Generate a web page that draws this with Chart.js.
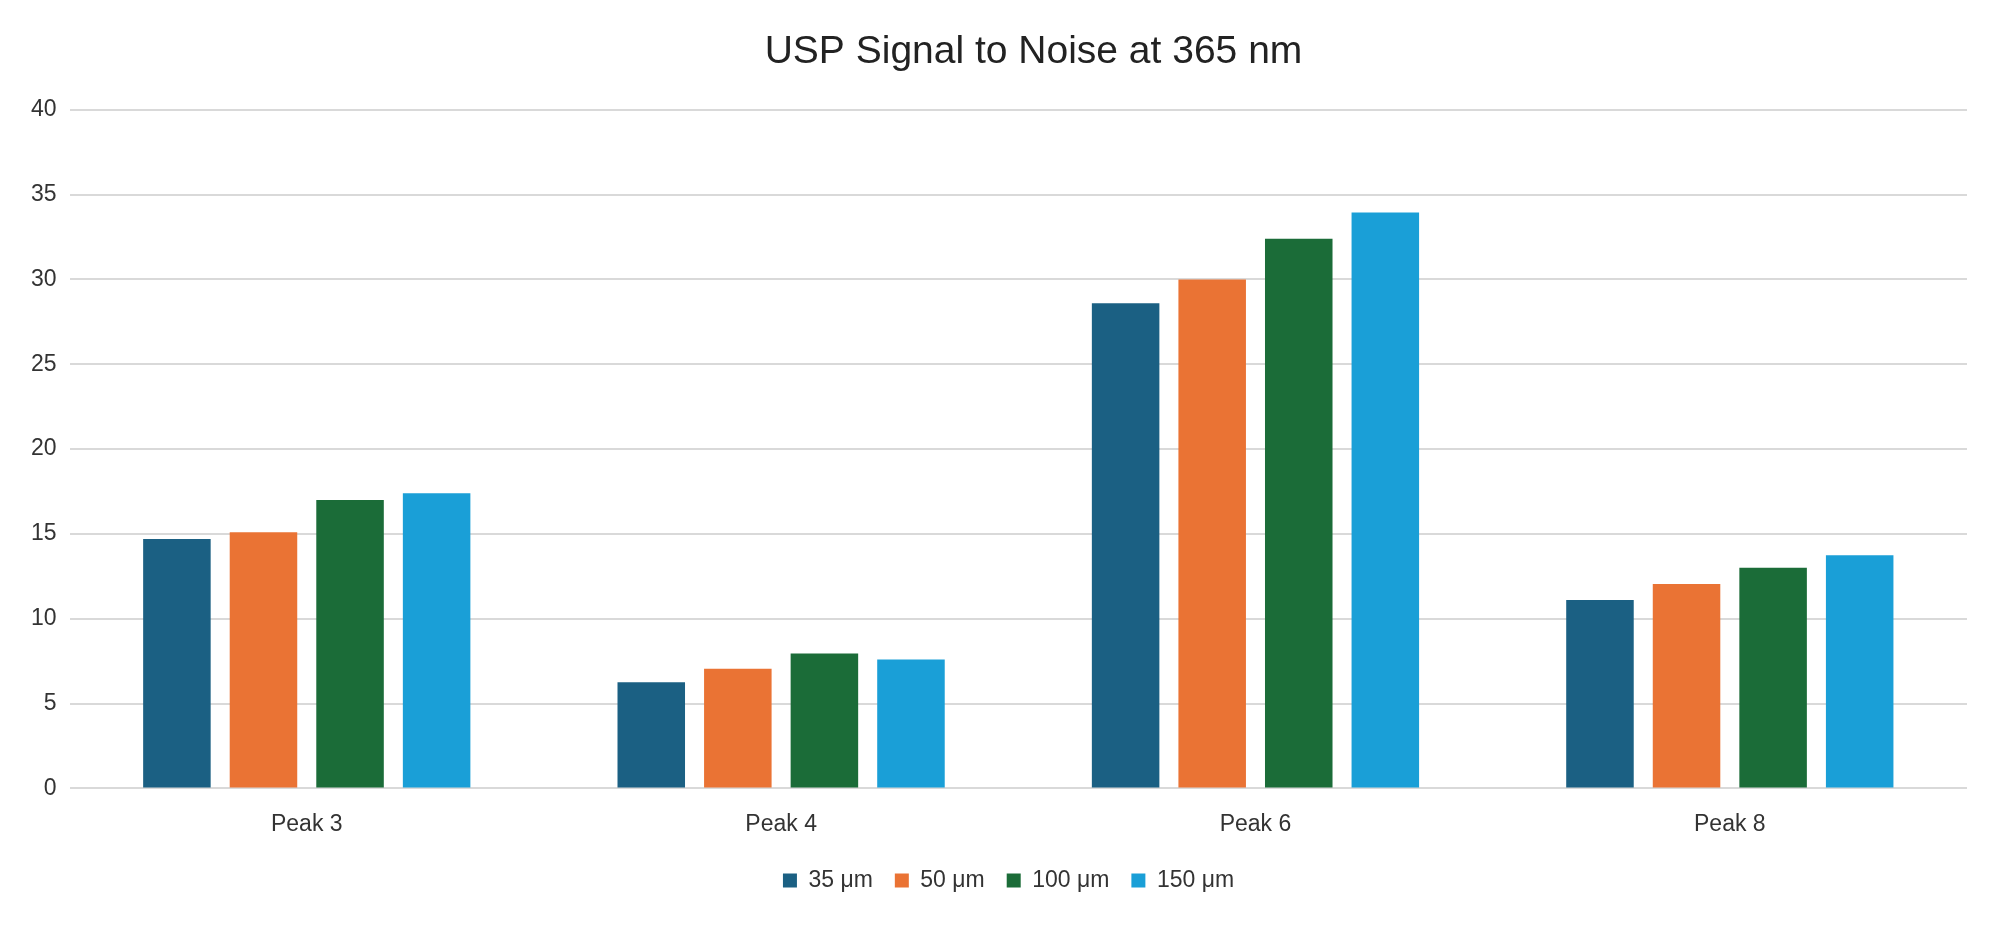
<!DOCTYPE html>
<html>
<head>
<meta charset="utf-8">
<script src="https://cdn.jsdelivr.net/npm/chart.js@4/dist/chart.umd.min.js"></script>
<style>
  html, body { margin: 0; padding: 0; background: #fff; }
  .chart-wrap { width: 2000px; height: 926px; }
</style>
</head>
<body>
<div class="chart-wrap"><canvas id="chart"></canvas></div>
<script>
const categories = ["Peak 3", "Peak 4", "Peak 6", "Peak 8"];
const seriesLabels = ["35 μm", "50 μm", "100 μm", "150 μm"];
const values35 = [14.7, 6.25, 28.6, 11.1];
const values50 = [15.1, 7.05, 30.0, 12.05];
const values100 = [17.0, 7.95, 32.4, 13.0];
const values150 = [17.4, 7.6, 33.95, 13.75];
const seriesColors = ["#1B6083", "#EA7334", "#1B6C38", "#1A9FD7"];
const yTicks = [0, 5, 10, 15, 20, 25, 30, 35, 40];

const fontFamily = "'Liberation Sans', Arial, sans-serif";
const textColor = "#333333";
const gridColor = "#d9d9d9";

const datasets = [values35, values50, values100, values150].map((data, i) => ({
  label: seriesLabels[i],
  data,
  backgroundColor: seriesColors[i],
  borderWidth: 0,
  categoryPercentage: 0.73,
  barPercentage: 0.78
}));

// title and legend sit a bit right of the canvas centre in the original
const shiftBlocks = {
  id: "shiftBlocks",
  afterLayout(chart) {
    if (chart.titleBlock) chart.titleBlock.left += 82;
    if (chart.legend) chart.legend.left += 32;
  }
};

new Chart(document.getElementById("chart"), {
  type: "bar",
  data: { labels: categories, datasets },
  plugins: [shiftBlocks],
  options: {
    responsive: true,
    maintainAspectRatio: false,
    animation: false,
    layout: { padding: { left: 18, right: 33, top: 0, bottom: 24 } },
    plugins: {
      title: {
        display: true,
        text: "USP Signal to Noise at 365 nm",
        color: "#222222",
        font: { family: fontFamily, size: 39, weight: "normal" },
        padding: { top: 29, bottom: 34 }
      },
      legend: {
        position: "bottom",
        labels: {
          color: textColor,
          font: { family: fontFamily, size: 23 },
          boxWidth: 14,
          boxHeight: 14,
          padding: 22
        }
      },
      tooltip: { enabled: false }
    },
    scales: {
      x: {
        grid: { display: false },
        border: { display: false },
        afterFit: (scale) => {
          scale.height -= 5;
        },
        ticks: {
          color: textColor,
          font: { family: fontFamily, size: 23 },
          padding: 14
        }
      },
      y: {
        min: 0,
        max: 40,
        afterBuildTicks: (axis) => {
          axis.ticks = yTicks.map((v) => ({ value: v }));
        },
        grid: { color: gridColor, lineWidth: 2, drawTicks: false },
        border: { display: false },
        ticks: {
          color: textColor,
          font: { family: fontFamily, size: 23 },
          padding: 13
        }
      }
    }
  }
});
</script>
</body>
</html>
